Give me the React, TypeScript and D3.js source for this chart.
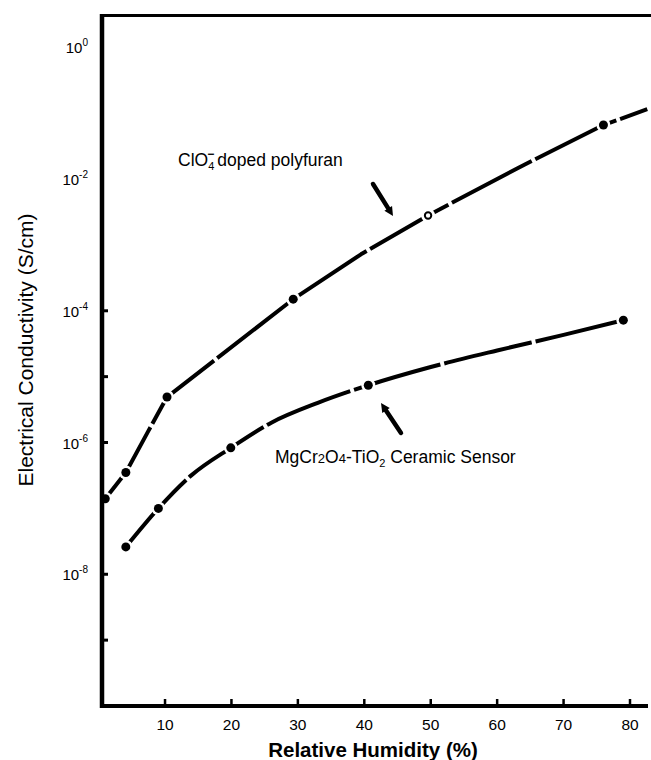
import React from "react";
import * as d3 from "d3";

// Polyfuran (ClO4- doped) – markers
const polyRH = [1, 4.1, 10.3, 29.3, 49.6, 76.0];
const polyCond = [1.4e-7, 3.5e-7, 4.9e-6, 1.5e-4, 2.8e-3, 6.6e-2];
// polyfuran curve trace (incl. right-edge end)
const polyLineRH = [0.6, 1, 4.1, 7.5, 10.3, 29.3, 39.5, 49.6, 63, 76.0, 82.6];
const polyLineCond = [1.2e-7, 1.4e-7, 3.5e-7, 1.5e-6, 4.9e-6, 1.5e-4, 7.2e-4, 2.8e-3, 1.45e-2, 6.6e-2, 0.115];

// MgCr2O4-TiO2 ceramic sensor – markers
const ceramRH = [4.1, 9.0, 19.9, 40.6, 79.0];
const ceramCond = [2.6e-8, 1.0e-7, 8.3e-7, 7.4e-6, 7.2e-5];
const ceramLineRH = [4.1, 9.0, 14, 19.9, 26, 33, 40.6, 50, 60, 70, 79.0];
const ceramLineCond = [2.6e-8, 1.0e-7, 3.2e-7, 8.3e-7, 2.0e-6, 4.0e-6, 7.4e-6, 1.4e-5, 2.5e-5, 4.3e-5, 7.2e-5];

const xTicks = [10, 20, 30, 40, 50, 60, 70, 80];
const yLabelExps = [0, -2, -4, -6, -8];
const yTickExps = [-4, -5, -6, -8, -9];

const W = 651;
const H = 760;

export default function App() {
  const x = d3.scaleLinear().domain([0, 80]).range([98.6, 630]);
  const y = d3.scaleLog().domain([1e-10, 1]).range([706, 47.3]);

  const polyLine = d3
    .line<[number, number]>()
    .x((d) => x(d[0]))
    .y((d) => y(d[1]))
    .curve(d3.curveLinear);
  const ceramLine = d3
    .line<[number, number]>()
    .x((d) => x(d[0]))
    .y((d) => y(d[1]))
    .curve(d3.curveMonotoneX);

  const polyPts: [number, number][] = polyLineRH.map((r, i) => [r, polyLineCond[i]]);
  const ceramPts: [number, number][] = ceramLineRH.map((r, i) => [r, ceramLineCond[i]]);

  const font = "'Liberation Sans', Arial, Helvetica, sans-serif";

  const marker = (cx: number, cy: number, k: string, open = false) => (
    <g key={k}>
      <circle cx={cx} cy={cy} r={7} fill="#fff" />
      <circle
        cx={cx}
        cy={cy}
        r={open ? 3.2 : 4.5}
        fill={open ? "#fff" : "#000"}
        stroke="#000"
        strokeWidth={open ? 2 : 0}
      />
    </g>
  );

  const arrow = (x1: number, y1: number, x2: number, y2: number) => {
    const ang = Math.atan2(y2 - y1, x2 - x1);
    const len = 9;
    const wid = 4.5;
    const bx = x2 - len * Math.cos(ang);
    const by = y2 - len * Math.sin(ang);
    const px = -Math.sin(ang) * wid;
    const py = Math.cos(ang) * wid;
    return (
      <g>
        <line x1={x1} y1={y1} x2={bx} y2={by} stroke="#000" strokeWidth={4.5} strokeLinecap="round" />
        <path d={`M${x2},${y2}L${bx + px},${by + py}L${bx - px},${by - py}Z`} fill="#000" />
      </g>
    );
  };

  return (
    <svg
      width={W}
      height={H}
      style={{ position: "absolute", left: 0, top: 0, background: "#fff" }}
      fontFamily={font}
    >
      <rect width={W} height={H} fill="#fff" />

      {/* curves */}
      <path
        d={polyLine(polyPts) || ""}
        fill="none"
        stroke="#000"
        strokeWidth={4}
        strokeDasharray="90 4"
        strokeLinecap="butt"
        strokeLinejoin="round"
      />
      <path
        d={ceramLine(ceramPts) || ""}
        fill="none"
        stroke="#000"
        strokeWidth={4}
        strokeDasharray="90 4"
        strokeLinecap="butt"
      />
      {polyRH.map((r, i) => marker(x(r), y(polyCond[i]), "p" + i, i === 4))}
      {ceramRH.map((r, i) => marker(x(r), y(ceramCond[i]), "c" + i))}

      {/* spines */}
      <line x1={100} x2={651} y1={15.5} y2={15.5} stroke="#000" strokeWidth={3} />
      <line x1={102} x2={102} y1={14} y2={708} stroke="#000" strokeWidth={4.5} />
      <line x1={100} x2={648} y1={706} y2={706} stroke="#000" strokeWidth={4} />

      {/* y ticks */}
      {yTickExps.map((e) => (
        <line key={"yt" + e} x1={102} x2={108} y1={y(Math.pow(10, e))} y2={y(Math.pow(10, e))} stroke="#000" strokeWidth={3} />
      ))}
      {yLabelExps.map((e) => (
        <text key={"yl" + e} x={88} y={y(Math.pow(10, e)) + 6} textAnchor="end" fontSize={15} fill="#000">
          10
          <tspan fontSize={10} dy={-7}>
            {e === 0 ? "0" : "-" + Math.abs(e)}
          </tspan>
        </text>
      ))}

      {/* x ticks */}
      {xTicks.map((t) => (
        <g key={"xt" + t}>
          <line x1={x(t)} x2={x(t)} y1={706} y2={699} stroke="#000" strokeWidth={2.5} />
          <text x={x(t)} y={730} textAnchor="middle" fontSize={15.5} fill="#000">
            {t}
          </text>
        </g>
      ))}

      {/* axis titles */}
      <text x={373} y={757} textAnchor="middle" fontSize={20.5} fontWeight="bold" fill="#000">
        Relative Humidity (%)
      </text>
      <text
        transform="translate(33,350) rotate(-90)"
        textAnchor="middle"
        fontSize={21}
        fill="#000"
      >
        Electrical Conductivity (S/cm)
      </text>

      {/* annotations */}
      <text x={178} y={166} fontSize={17.5} fill="#000">
        ClO
        <tspan fontSize={11} dy={4}>4</tspan>
        <tspan fontSize={12} dx={-7} dy={-12} fontWeight="bold">−</tspan>
        <tspan dy={8} dx={3}>doped polyfuran</tspan>
      </text>
      {arrow(373, 184, 393, 216)}

      <text x={275} y={463} fontSize={17.5} fill="#000">
        MgCr
        <tspan fontSize={13}>2</tspan>
        O
        <tspan fontSize={13}>4</tspan>
        -TiO
        <tspan fontSize={11} dy={4}>2</tspan>
        <tspan dy={-4}> Ceramic Sensor</tspan>
      </text>
      {arrow(401, 433, 381, 403)}
    </svg>
  );
}
